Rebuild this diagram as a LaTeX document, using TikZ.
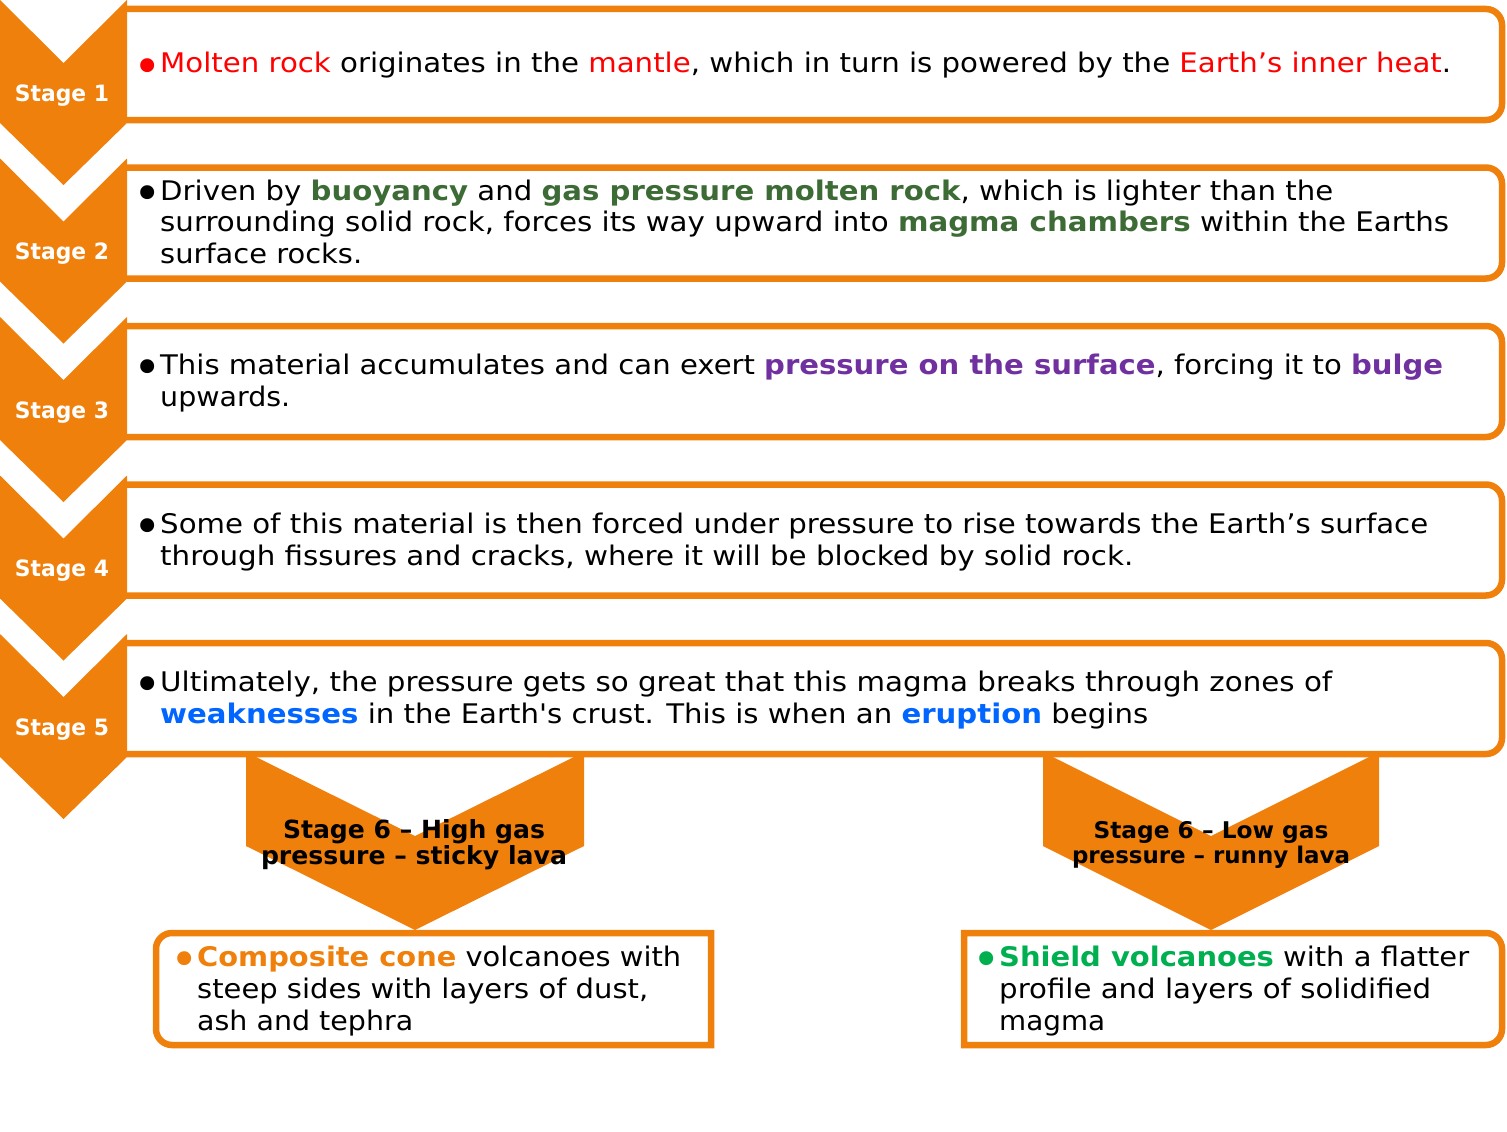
\documentclass[tikz,border=0pt]{standalone}
\usepackage{fontspec}
\setmainfont{DejaVu Sans}[Ligatures=TeXOff]
\definecolor{org}{HTML}{F0800C}
\definecolor{dgreen}{HTML}{3D6B35}
\definecolor{purp}{HTML}{7030A0}
\definecolor{blu}{HTML}{0066FF}
\definecolor{sgreen}{HTML}{00B050}
\definecolor{red1}{HTML}{FF0000}
\newsavebox\fitbox
\newcommand\fitline[2]{\sbox\fitbox{#2}\pgfmathsetmacro\fitfac{#1/\the\wd\fitbox}\scalebox{\fitfac}[1]{\usebox\fitbox}}
\newcommand\gb[1]{\textbf{\textcolor{dgreen}{#1}}}
\newcommand\pb[1]{\textbf{\textcolor{purp}{#1}}}
\newcommand\bb[1]{\textbf{\textcolor{blu}{#1}}}
\tikzset{
  boxline/.style={draw=org, line width=6.5pt, fill=white},
  chev/.style={fill=org},
  body/.style={anchor=base west, inner sep=0pt, font=\fontsize{27}{32}\selectfont},
  bul/.style={anchor=center, inner sep=0pt, font=\fontsize{48}{48}\selectfont},
  stagelbl/.style={anchor=base, inner sep=0pt, text=white, font=\bfseries\fontsize{22.5}{27}\selectfont},
  sixlbl/.style={anchor=base, inner sep=0pt, font=\bfseries\fontsize{25}{27}\selectfont},
}
\begin{document}
\begin{tikzpicture}[x=1pt,y=-1pt]
\useasboundingbox (0,0) rectangle (1507,1132);
% stage 6 chevrons (behind boxes)
\fill[chev] (246,752) -- (415,836) -- (584,752) -- (584,846) -- (415,930) -- (246,846) -- cycle;
\fill[chev] (1043,752) -- (1211,836) -- (1379,752) -- (1379,846) -- (1211,930) -- (1043,846) -- cycle;
% stage boxes
\foreach \T in {0,158.5,317,475.5,634}{
  \filldraw[boxline, rounded corners=16] (127,\T+9) -- (1502,\T+9) -- (1502,\T+120) -- (127,\T+120);
}
% left chevrons
\foreach \T/\n in {0/1,158.5/2,317/3,475.5/4,634/5}{
  \fill[chev] (0,\T) -- (63.5,\T+63) -- (127,\T) -- (127,\T+123) -- (63.5,\T+185) -- (0,\T+123) -- cycle;
  \node[stagelbl] (lbl\n) at (62,\T+101) {\fitline{94}{Stage \n}};
}
% bottom boxes
\filldraw[boxline] (711,933) -- (172,933) arc[start angle=-90, end angle=-180, radius=16]
  -- (156,1029) arc[start angle=180, end angle=90, radius=16] -- (711,1045) -- cycle;
\filldraw[boxline] (964,933) -- (1486,933) arc[start angle=-90, end angle=0, radius=16]
  -- (1502,1029) arc[start angle=0, end angle=90, radius=16] -- (964,1045) -- cycle;
% stage 6 labels
\node[sixlbl] (h1) at (414,838) {\fitline{262}{Stage 6 – High gas}};
\node[sixlbl] (h2) at (414,864) {\fitline{306}{pressure – sticky lava}};
\node[sixlbl, font=\bfseries\fontsize{23}{25}\selectfont] (l1) at (1211,838) {\fitline{235}{Stage 6 – Low gas}};
\node[sixlbl, font=\bfseries\fontsize{23}{25}\selectfont] (l2) at (1211,863) {\fitline{278}{pressure – runny lava}};
% stage 1 text
\node[bul, text=red1] (u1) at (147.5,71.5) {•};
\node[body] (t1) at (160,73) {\fitline{1291}{\textcolor{red1}{Molten rock} originates in the \textcolor{red1}{mantle}, which in turn is powered by the \textcolor{red1}{Earth’s inner heat}.}};
% stage 2
\node[bul] (u2) at (147.5,198.5) {•};
\node[body] (t2a) at (160,200) {\fitline{1173}{Driven by \gb{buoyancy} and \gb{gas pressure molten rock}, which is lighter than the}};
\node[body] (t2b) at (160,231.5) {\fitline{1289}{surrounding solid rock, forces its way upward into \gb{magma chambers} within the Earths}};
\node[body] (t2c) at (160,263) {\fitline{202}{surface rocks.}};
% stage 3
\node[bul] (u3) at (147.5,372.5) {•};
\node[body] (t3a) at (160,374) {\fitline{1283}{This material accumulates and can exert \pb{pressure on the surface}, forcing it to \pb{bulge}}};
\node[body] (t3b) at (160,406) {\fitline{130}{upwards.}};
% stage 4
\node[bul] (u4) at (147.5,531.5) {•};
\node[body] (t4a) at (160,533) {\fitline{1268}{Some of this material is then forced under pressure to rise towards the Earth’s surface}};
\node[body] (t4b) at (160,565) {\fitline{973}{through fissures and cracks, where it will be blocked by solid rock.}};
% stage 5
\node[bul] (u5) at (147.5,689.5) {•};
\node[body] (t5a) at (160,691) {\fitline{1172}{Ultimately, the pressure gets so great that this magma breaks through zones of}};
\node[body] (t5b) at (160,723) {\fitline{988}{\bb{weaknesses} in the Earth's crust. This is when an \bb{eruption} begins}};
% composite
\node[bul, text=org] (uc) at (185,964.5) {•};
\node[body] (c1) at (197,966) {\fitline{484}{\textbf{\textcolor{org}{Composite cone}} volcanoes with}};
\node[body] (c2) at (197,998) {\fitline{451}{steep sides with layers of dust,}};
\node[body] (c3) at (197,1030) {\fitline{216}{ash and tephra}};
% shield
\node[bul, text=sgreen] (us) at (987,964.5) {•};
\node[body] (s1) at (999,966) {\fitline{470}{\textbf{\textcolor{sgreen}{Shield volcanoes}} with a flatter}};
\node[body] (s2) at (999,998) {\fitline{432}{profile and layers of solidified}};
\node[body] (s3) at (999,1030) {\fitline{106}{magma}};
\end{tikzpicture}
\end{document}
